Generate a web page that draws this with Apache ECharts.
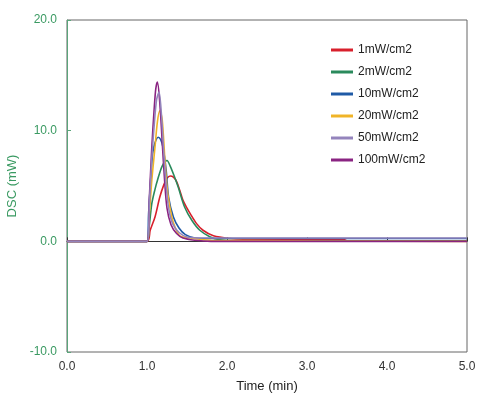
<!DOCTYPE html>
<html><head><meta charset="utf-8">
<script src="https://cdn.jsdelivr.net/npm/echarts@6/dist/echarts.min.js"></script>
<style>html,body{margin:0;padding:0;background:#fff}#c{width:478px;height:398px}</style>
</head><body><div id="c"></div>
<script>
const seriesNames = ['1mW/cm2','2mW/cm2','10mW/cm2','20mW/cm2','50mW/cm2','100mW/cm2'];
const xTicks = [0,1,2,3,4,5];
const yTicks = [-10,0,10,20];
const t1 = [0,1.0,1.04,1.1,1.16,1.21,1.25,1.29,1.33,1.37,1.41,1.45,1.5,1.54,1.62,1.7,1.83,2.04,2.2,2.5,3.0,3.45,3.5,5.0];
const v1 = [0,0,1.0,2.2,4.0,5.1,5.7,5.9,5.8,5.4,4.6,3.7,3.0,2.5,1.6,1.0,0.5,0.25,0.2,0.2,0.2,0.2,0.05,0.05];
const t2 = [0,1.0,1.03,1.06,1.1,1.13,1.19,1.25,1.29,1.34,1.39,1.47,1.56,1.66,1.79,1.91,2.1,5.0];
const v2 = [0,0,1.5,3.4,4.7,5.5,6.8,7.3,6.8,5.9,4.9,3.1,1.9,1.0,0.4,0.15,0.05,0.05];
const t3 = [0,1.0,1.02,1.04,1.07,1.1,1.14,1.17,1.2,1.24,1.27,1.33,1.4,1.48,1.6,1.8,5.0];
const v3 = [0,0,2.5,4.9,7.9,8.9,9.4,9.2,8.5,6.4,4.0,2.2,1.2,0.6,0.3,0.25,0.25];
const t4 = [0,1.0,1.03,1.06,1.1,1.13,1.16,1.19,1.23,1.26,1.31,1.35,1.41,1.54,1.8,5.0];
const v4 = [0,0,2.5,5.5,8.5,10.8,11.8,11.0,6.7,4.3,2.2,1.3,0.5,0.3,0.1,0.0];
const t5 = [0,1.0,1.03,1.06,1.09,1.12,1.15,1.18,1.21,1.24,1.27,1.32,1.4,1.5,1.7,5.0];
const v5 = [0,0,3.5,7.5,10.5,12.8,13.5,11.5,8.0,5.0,3.0,1.6,0.8,0.4,0.3,0.3];
const t6 = [0,1.0,1.03,1.06,1.09,1.11,1.13,1.16,1.19,1.22,1.25,1.3,1.37,1.45,1.6,1.8,5.0];
const v6 = [0,0,4.0,8.5,12.0,13.8,14.4,12.5,9.0,5.5,3.0,1.5,0.7,0.3,0.1,0.0,0.0];
const times = [t1,t2,t3,t4,t5,t6];
const vals = [v1,v2,v3,v4,v5,v6];
const colors = ['#d8202c','#2a8a5c','#1f5aa6','#f0b428','#9484bc','#8a2482'];
const zs = [3,4,5,6,8,7];

const chart = echarts.init(document.getElementById('c'));
const font = 'Liberation Sans, Arial, sans-serif';
chart.setOption({
  animation:false,
  color: colors,
  grid:{left:67,right:11,top:20,bottom:46,show:true,borderColor:'#666',borderWidth:1,outerBoundsMode:'none',containLabel:false},
  legend:{orient:'vertical',left:326,top:38,itemWidth:22,itemHeight:3,itemGap:8,icon:'rect',
    data:seriesNames,textStyle:{fontFamily:font,fontSize:12,color:'#222',lineHeight:14}},
  xAxis:{type:'value',min:xTicks[0],max:xTicks[xTicks.length-1],interval:1,
    name:'Time (min)',nameLocation:'middle',nameGap:28,
    nameTextStyle:{fontFamily:font,fontSize:13,color:'#222'},
    axisLine:{show:true,lineStyle:{color:'#333',width:1}},
    axisTick:{show:true,inside:true,length:4,lineStyle:{color:'#333'}},
    axisLabel:{fontFamily:font,fontSize:12,color:'#333',margin:9,formatter:v=>v.toFixed(1)},
    splitLine:{show:false}},
  yAxis:{type:'value',min:yTicks[0],max:yTicks[yTicks.length-1],interval:10,
    name:'DSC (mW)',nameLocation:'middle',nameGap:46,nameRotate:90,
    nameTextStyle:{fontFamily:font,fontSize:13,color:'#3a9a62'},
    axisLine:{show:true,lineStyle:{color:'#5aa57a',width:1}},
    axisTick:{show:true,inside:true,length:4,lineStyle:{color:'#5aa57a'}},
    axisLabel:{fontFamily:font,fontSize:12,color:'#3a9a62',margin:10,formatter:v=>v.toFixed(1)},
    splitLine:{show:false}},
  series: seriesNames.map((n,i)=>({
    name:n,type:'line',showSymbol:false,smooth:0.3,z:zs[i],
    lineStyle:{width:1.6,color:colors[i]},itemStyle:{color:colors[i]},
    data: times[i].map((t,j)=>[t,vals[i][j]])
  }))
});
</script></body></html>
